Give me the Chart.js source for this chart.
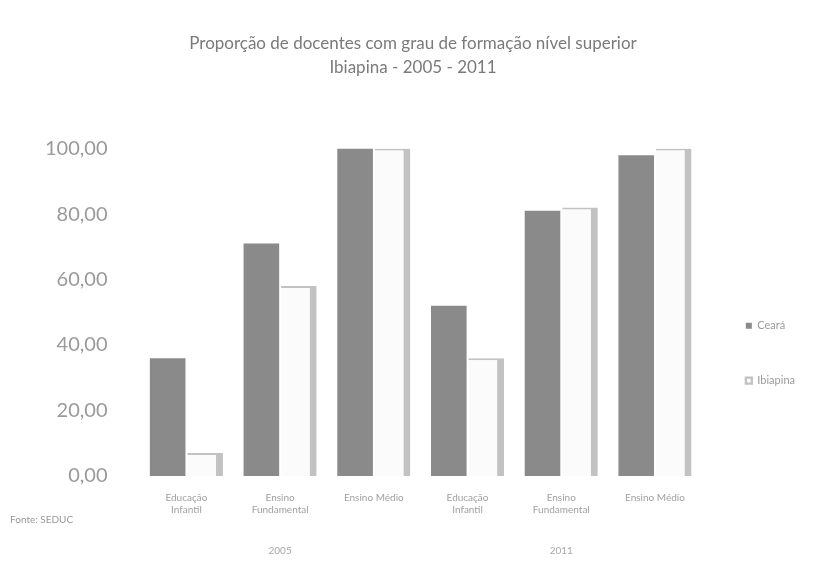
<!DOCTYPE html>
<html>
<head>
<meta charset="utf-8">
<script src="https://cdn.jsdelivr.net/npm/chart.js@4"></script>
<style>
  html, body { margin: 0; padding: 0; background: #fff; }
  .wrap { position: relative; width: 837px; height: 571px; }
  .fonte { position: absolute; left: 10px; top: 513px; font: 10px Lato, sans-serif; color: #9a9a9a; }
</style>
</head>
<body>
<div class="wrap">
  <canvas id="myChart" width="837" height="571"></canvas>
  <div class="fonte">Fonte: SEDUC</div>
</div>
<script>
const categories = [
  ['Educação', 'Infantil'], ['Ensino', 'Fundamental'], 'Ensino Médio',
  ['Educação', 'Infantil'], ['Ensino', 'Fundamental'], 'Ensino Médio'
]
const years = ['2005', '2011']
const ceara = [36, 71, 100, 52, 81, 98]
const ibiapina = [7, 58, 100, 36, 82, 100]
const yTicks = [0, 20, 40, 60, 80, 100]

const ctx = document.getElementById('myChart').getContext('2d')
const myChart = new Chart(ctx, {
  type: 'bar',
  data: {
    labels: categories,
    datasets: [{
      label: 'Ceará',
      data: ceara,
      backgroundColor: '#8a8a8a',
      borderWidth: 0
    }, {
      label: 'Ibiapina',
      data: ibiapina,
      backgroundColor: '#fbfbfb',
      borderColor: '#c2c2c2',
      borderWidth: { top: 2, right: 7, left: 0, bottom: 0 }
    }]
  },
  options: {
    responsive: false,
    animation: false,
    layout: { padding: { left: 21, right: 32, top: 0, bottom: 1 } },
    categoryPercentage: 0.8,
    barPercentage: 0.95,
    plugins: {
      title: {
        display: true,
        text: ['Proporção de docentes com grau de formação nível superior', 'Ibiapina - 2005 - 2011'],
        color: '#7a7a7a',
        font: { family: 'Lato', size: 17, weight: 'normal', lineHeight: 1.4 },
        padding: { top: 32, bottom: 69 }
      },
      legend: {
        position: 'right',
        title: { display: true, text: '', padding: { top: 122, bottom: 0 } },
        labels: {
          color: '#9a9a9a',
          font: { family: 'Lato', size: 11 },
          boxWidth: 6,
          boxHeight: 6,
          padding: 44
        }
      },
      tooltip: { enabled: false }
    },
    scales: {
      x: {
        offset: true,
        grid: { display: false },
        border: { display: false },
        ticks: { color: '#a0a0a0', font: { family: 'Lato', size: 10 }, maxRotation: 0, autoSkip: false, padding: 8 }
      },
      x2: {
        type: 'category',
        labels: years,
        position: 'bottom',
        offset: true,
        grid: { display: false },
        border: { display: false },
        ticks: { color: '#a8a8a8', font: { family: 'Lato', size: 10 }, padding: 13 }
      },
      y: {
        min: 0,
        max: 100,
        grid: { display: false },
        border: { display: false },
        afterBuildTicks: (axis) => { axis.ticks = yTicks.map(v => ({ value: v })) },
        ticks: {
          color: '#9a9a9a',
          font: { family: 'Lato', size: 20 },
          padding: 24,
          callback: (v) => v.toFixed(2).replace('.', ',')
        }
      }
    }
  }
})
</script>
</body>
</html>
